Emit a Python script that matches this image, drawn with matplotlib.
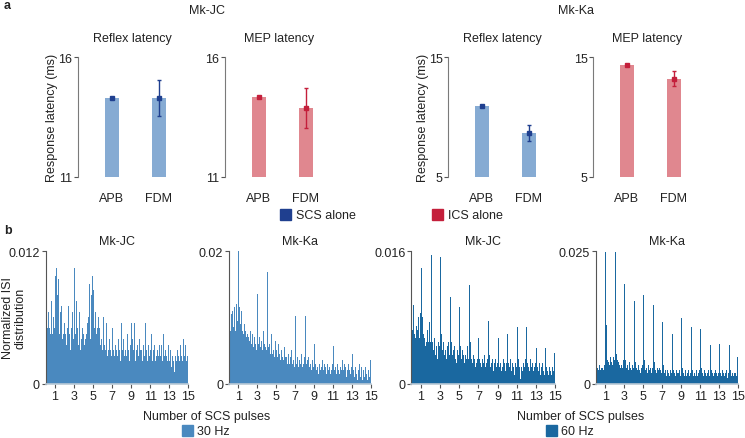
import numpy as np
import matplotlib.pyplot as plt

plt.rcParams['font.family'] = ['Liberation Sans', 'DejaVu Sans']
plt.rcParams['font.size'] = 9

# ---- panel a : response latencies (ms) ----
muscles = ["APB", "FDM"]
jc_reflex = [14.30, 14.30]
jc_reflex_err = [0.05, 0.77]
jc_mep = [14.35, 13.86]
jc_mep_err = [0.05, 0.84]
ka_reflex = [10.96, 8.68]
ka_reflex_err = [0.08, 0.65]
ka_mep = [14.39, 13.22]
ka_mep_err = [0.06, 0.66]

# ---- panel b : normalized ISI distributions (x1e-3), bins of 0.1 pulse from 0 to 15 ----
isi_30_jc = [
    5.5, 3, 5, 6.5, 5, 4.5, 7.5, 4.5, 6, 5,
    9.8, 10.5, 8, 9.5, 4.5, 6.5, 7, 4, 4.5, 5.5,
    4, 4.5, 3.5, 5, 7, 4.5, 3, 5, 6.5, 4,
    10.5, 4.5, 7.5, 5, 3.5, 6.5, 3, 4, 5, 4.5,
    3.5, 5, 4, 4.5, 5.5, 6, 9, 4, 8, 9.8,
    8.5, 5, 6.5, 4.5, 5, 6, 5, 3.5, 4, 3,
    6, 3.5, 4, 3, 5.5, 2.5, 3, 4, 3, 2.5,
    5, 3, 2.5, 3.5, 3, 2.5, 4, 3, 2, 5.5,
    3, 4, 2.5, 3.5, 3, 2.5, 4.5, 3, 2, 3.5,
    5.5, 4, 3, 5.5, 2, 3, 3.5, 2.5, 4, 3,
    3, 2, 3.5, 2.5, 3, 5.5, 3, 2, 3.5, 2.5,
    3, 4.5, 2, 3, 3.5, 2, 2.5, 3, 2.5, 3.5,
    2.5, 3.5, 2, 4.5, 2.5, 2, 3, 2.5, 2, 3.5,
    2, 3, 1.5, 2.5, 2, 1, 2.5, 2, 3, 2.5,
    2, 3.5, 2.5, 2, 4, 3, 2.5, 3.5, 2, 2.5]
isi_30_ka = [
    9.5, 8, 10.5, 11, 8.5, 9, 11.5, 8, 12, 9.5,
    20, 11.5, 9, 11, 8, 7.5, 9, 8, 7, 7.5,
    7, 6.5, 8, 6, 7.5, 6, 5.5, 7, 6, 5,
    13.5, 6, 7, 5.5, 6.5, 5, 8, 6, 5.5, 5,
    16.8, 5.5, 6, 4.5, 5, 7.5, 4.5, 5, 4, 6.5,
    5, 4, 6, 4.5, 3.5, 5, 4, 3.5, 5.5, 4,
    4, 3, 4.5, 3.5, 3, 4, 5, 3, 3.5, 2.5,
    10.2, 3, 4, 2.5, 3.5, 3, 4.5, 2.5, 3, 4,
    10.2, 3, 2.5, 3.5, 4, 2.5, 3, 2, 3.5, 2.5,
    6, 3, 2, 2.5, 1.5, 3, 2, 2.5, 3.5, 2,
    3, 2, 2.5, 1.5, 3, 2, 2.5, 1.5, 2, 3,
    5.7, 2, 2.5, 1.5, 3, 2, 1.5, 2.5, 2, 3.5,
    2, 1.5, 3, 2.5, 1, 2, 3, 2, 1.5, 2.5,
    4.5, 2, 1, 2.5, 1.5, 0.5, 2, 3, 1, 2.5,
    1.5, 0.5, 2, 1, 2.5, 1.5, 0.5, 2, 1, 3.5]
isi_60_jc = [
    10.3, 6.5, 9.5, 6, 5.5, 7, 6.5, 8, 5.5, 8.5,
    14, 8, 6, 5.5, 4.5, 5, 6.5, 5, 7.5, 5,
    15.5, 7.5, 5, 4, 5.5, 3.5, 4.5, 3, 5, 4.5,
    15.3, 6, 4, 5, 3.5, 4, 3, 4.5, 5, 3.5,
    10.5, 5, 3.5, 4, 3, 4.5, 3, 2.5, 4, 3.5,
    9.3, 4.5, 3, 4, 3.5, 2.5, 3.5, 3, 4.5, 3,
    11.9, 5, 3, 2.5, 3.5, 3, 2, 3.5, 2.5, 3,
    5.5, 3, 2.5, 2, 3, 2.5, 3.5, 2, 2.5, 3,
    7.6, 3.5, 2, 2.5, 3, 1.5, 2.5, 3, 2, 2.5,
    5.5, 3, 2, 2.5, 1.5, 2, 3, 2.5, 1.5, 2.5,
    6, 2.5, 2, 3, 1.5, 2.5, 2, 1, 2.5, 2,
    6.8, 3, 2, 0.5, 2.5, 2, 1.5, 2.5, 2, 3,
    6.8, 2.5, 2, 1.5, 3, 2, 2.5, 1.5, 2, 2.5,
    4.3, 2, 1.5, 2.5, 1, 2, 2.5, 1.5, 2, 1,
    4.3, 2, 1.5, 1, 2, 1.5, 1, 2, 1.5, 3.7]
isi_60_ka = [
    4, 3, 2.5, 3.5, 2.5, 3, 4, 3, 2.5, 3.5,
    24.8, 11, 4.5, 4, 3.5, 5, 4, 3.5, 5, 4.5,
    24.8, 5.5, 4.5, 4, 3.5, 3, 4, 3.5, 3, 4.5,
    18.8, 4.5, 3, 3.5, 2.5, 4, 3, 2.5, 3.5, 3,
    15.6, 4, 3, 2.5, 3.5, 2.5, 3, 2, 3, 3.5,
    16.8, 4.5, 2.5, 3, 2, 3.5, 2.5, 3, 2, 3,
    14.8, 4, 2.5, 2, 3, 2.5, 2, 3, 2.5, 2,
    11.6, 3.5, 2, 2.5, 1.5, 2.5, 2, 1.5, 2.5, 2,
    9.3, 2.5, 2, 1.5, 2.5, 2, 1.5, 2, 2.5, 1.5,
    12.3, 3, 2, 1.5, 2.5, 1.5, 2, 2.5, 1.5, 2,
    10.6, 2.5, 1.5, 2, 1.5, 2.5, 2, 1.5, 2, 2.5,
    10.4, 3, 2, 1.5, 2.5, 2, 1.5, 2, 2.5, 1.5,
    7.2, 2.5, 2, 1.5, 2, 2.5, 1.5, 2, 1.5, 2,
    7.4, 2, 1.5, 2.5, 2, 1.5, 2, 2.5, 1, 2,
    7.2, 2.5, 1.5, 2, 1.5, 2, 1.5, 2, 1.5, 5]

W, H = 745, 439
BLUE_BAR, BLUE_DOT = "#86abd3", "#1f3f8f"
RED_BAR, RED_DOT = "#e0878f", "#c41f3b"
C30, C60 = "#4a89bf", "#1a68a0"
TXT = "#222222"
FS = 9


def px(left, top, right, bottom):
    return [left / W, 1 - bottom / H, (right - left) / W, (bottom - top) / H]


fig = plt.figure(figsize=(W / 100, H / 100), dpi=100)


def bar_panel(left, vals, errs, lims, barc, dotc, title, ylabel=False):
    ax = fig.add_axes(px(left, 58.3, left + 108, 177.7))
    x = np.arange(len(vals))
    ax.bar(x, vals, width=0.3, color=barc)
    ax.errorbar(x, vals, yerr=errs, fmt="s", color=dotc, ms=3.5, lw=1,
                capsize=1.5, capthick=1)
    ax.set_xlim(-0.72, 1.58)
    ax.set_ylim(*lims)
    ax.set_yticks(lims)
    ax.set_xticks(x)
    ax.set_xticklabels(muscles)
    for s in ["top", "right", "bottom"]:
        ax.spines[s].set_visible(False)
    ax.spines["left"].set_color("#7a7a7a")
    ax.tick_params(axis="x", length=0, pad=11, labelsize=FS, colors=TXT)
    ax.tick_params(axis="y", length=3, width=0.8, color="#555555",
                   labelsize=FS, colors=TXT, pad=1)
    ax.set_title(title, fontsize=FS, color=TXT, pad=12)
    if ylabel:
        ax.set_ylabel("Response latency (ms)", fontsize=FS, color=TXT,
                      labelpad=0)
    return ax


bar_panel(78, jc_reflex, jc_reflex_err, (11, 16), BLUE_BAR, BLUE_DOT,
          "Reflex latency", ylabel=True)
bar_panel(225, jc_mep, jc_mep_err, (11, 16), RED_BAR, RED_DOT, "MEP latency")
bar_panel(448, ka_reflex, ka_reflex_err, (5, 15), BLUE_BAR, BLUE_DOT,
          "Reflex latency", ylabel=True)
bar_panel(593, ka_mep, ka_mep_err, (5, 15), RED_BAR, RED_DOT, "MEP latency")

fig.text(207 / W, 1 - 11 / H, "Mk-JC", ha="center", va="center",
         fontsize=FS, color=TXT)
fig.text(576 / W, 1 - 11 / H, "Mk-Ka", ha="center", va="center",
         fontsize=FS, color=TXT)
fig.text(4 / W, 1 - 6 / H, "a", fontweight="bold", fontsize=FS,
         va="center", color=TXT)
fig.text(4 / W, 1 - 231 / H, "b", fontweight="bold", fontsize=FS,
         va="center", color=TXT)

# legend patches for panel a
for x0, col, lab in [(280, BLUE_DOT, "SCS alone"), (432, RED_DOT, "ICS alone")]:
    fig.patches.append(plt.Rectangle((x0 / W, 1 - 221 / H), 11 / W, 11 / H,
                                     transform=fig.transFigure, color=col))
    fig.text((x0 + 16) / W, 1 - 216 / H, lab, va="center", fontsize=FS,
             color=TXT)

# ---- panel b ----
edges = np.arange(0, 15.01, 0.1)
hist_specs = [
    (45.5, 188.3, isi_30_jc, 0.012, "0.012", C30, "Mk-JC"),
    (228.8, 371.0, isi_30_ka, 0.02, "0.02", C30, "Mk-Ka"),
    (411.4, 555.0, isi_60_jc, 0.016, "0.016", C60, "Mk-JC"),
    (595.8, 738.3, isi_60_ka, 0.025, "0.025", C60, "Mk-Ka"),
]
for l, r, vals, ymax, ylab, col, title in hist_specs:
    ax = fig.add_axes(px(l, 252.3, r, 384.5))
    ax.bar(edges[:-1], np.array(vals) * 1e-3, width=0.1, align="edge",
           color=col, linewidth=0)
    ax.set_xlim(0, 15)
    ax.set_ylim(0, ymax)
    ax.set_yticks([0, ymax])
    ax.set_yticklabels(["0", ylab])
    ax.set_xticks(np.arange(1, 16, 2))
    for s in ["top", "right"]:
        ax.spines[s].set_visible(False)
    ax.spines["left"].set_color("#555555")
    ax.spines["bottom"].set_color("#b9c9d6")
    ax.spines["bottom"].set_linewidth(1.2)
    ax.tick_params(axis="x", length=3, width=0.8, color="#555555",
                   labelsize=FS, colors=TXT, pad=2)
    ax.tick_params(axis="y", length=3, width=0.8, color="#555555",
                   labelsize=FS, colors=TXT, pad=1)
    ax.set_title(title, fontsize=FS, color=TXT, pad=5)

fig.text(14 / W, 1 - 318 / H, "Normalized ISI\ndistribution", rotation=90,
         ha="center", va="center", fontsize=FS, color=TXT, linespacing=1.1,
         multialignment="center")
fig.text(207 / W, 1 - 417 / H, "Number of SCS pulses", ha="center",
         va="center", fontsize=FS, color=TXT)
fig.text(581 / W, 1 - 417 / H, "Number of SCS pulses", ha="center",
         va="center", fontsize=FS, color=TXT)
for x0, col, lab in [(182, C30, "30 Hz"), (546, C60, "60 Hz")]:
    fig.patches.append(plt.Rectangle((x0 / W, 1 - 437 / H), 11 / W, 11 / H,
                                     transform=fig.transFigure, color=col))
    fig.text((x0 + 15) / W, 1 - 432 / H, lab, va="center", fontsize=FS,
             color=TXT)

fig.savefig("out.png", dpi=100)
